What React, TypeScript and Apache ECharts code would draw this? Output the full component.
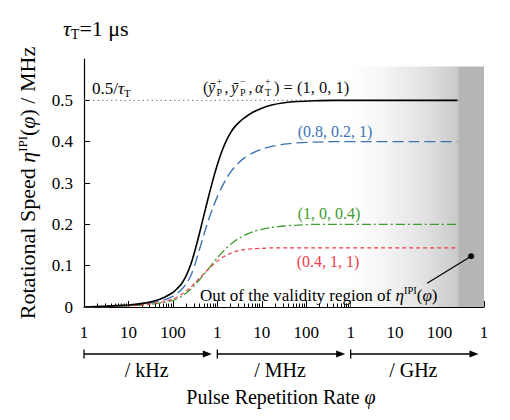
import React, { useEffect, useRef } from "react";
import * as echarts from "echarts";

const FONT = '"Liberation Serif", "Times New Roman", serif';

// log10 of pulse repetition rate (Hz): 3 = 1 kHz ... 12 = 1 THz
const logPhi = [3, 3.5, 4, 4.2, 4.4, 4.6, 4.8, 5.0, 5.1, 5.2, 5.3, 5.4, 5.5, 5.6, 5.7, 5.8, 5.9, 6.0, 6.1, 6.2, 6.3, 6.4, 6.5, 6.6, 6.8, 7.0, 7.2, 7.5, 7.8, 8.2, 8.6, 9.5, 10.5, 11.4];
const etaBlack = [0, 0.002, 0.005, 0.007, 0.01, 0.015, 0.023, 0.035, 0.045, 0.057, 0.076, 0.102, 0.138, 0.179, 0.223, 0.266, 0.307, 0.344, 0.376, 0.402, 0.422, 0.437, 0.448, 0.457, 0.471, 0.481, 0.488, 0.494, 0.497, 0.499, 0.5, 0.5, 0.5, 0.5];
const etaBlue = [0, 0.001, 0.004, 0.006, 0.008, 0.012, 0.017, 0.026, 0.033, 0.043, 0.056, 0.075, 0.104, 0.14, 0.176, 0.21, 0.24, 0.267, 0.29, 0.31, 0.327, 0.34, 0.351, 0.36, 0.373, 0.382, 0.388, 0.394, 0.397, 0.399, 0.4, 0.4, 0.4, 0.4];
const etaGreen = [0, 0.001, 0.003, 0.004, 0.006, 0.008, 0.011, 0.016, 0.02, 0.026, 0.034, 0.043, 0.054, 0.066, 0.079, 0.092, 0.106, 0.119, 0.131, 0.142, 0.152, 0.16, 0.167, 0.173, 0.182, 0.188, 0.192, 0.196, 0.198, 0.2, 0.2, 0.2, 0.2, 0.2];
const etaRed = [0, 0.001, 0.003, 0.004, 0.006, 0.009, 0.013, 0.019, 0.024, 0.031, 0.039, 0.048, 0.059, 0.07, 0.081, 0.092, 0.102, 0.111, 0.119, 0.125, 0.13, 0.134, 0.137, 0.139, 0.141, 0.142, 0.143, 0.143, 0.143, 0.143, 0.143, 0.143, 0.143, 0.143];

const limitLevel = 0.5;
const limitX = [3, 11.45];
const xMin = 3;
const xMax = 12;
const decadeCycleLabels = ["1", "10", "100"];
const unitLabels = ["/ kHz", "/ MHz", "/ GHz"];
const yTicks = [0, 0.1, 0.2, 0.3, 0.4, 0.5];
const validityStart = 9;
const validityTop = 0.582;
const outPoint = [11.71, 0.123];

const minorTicks: number[] = [];
for (let n = 3; n < 12; n++) {
  for (let k = 2; k <= 9; k++) minorTicks.push(n + Math.log10(k));
}

const toPairs = (ys: number[]) => logPhi.map((x, i) => [x, ys[i]]);

const txt = (extra: any) => ({ fontFamily: FONT, ...extra });
const Z = 100;

export default function App() {
  const ref = useRef<HTMLDivElement>(null);
  useEffect(() => {
    const el = ref.current!;
    const chart = echarts.init(el, null, { renderer: "svg" });
    const curve = (data: number[], color: string, width: number, type: any, z: number) => ({
      type: "line",
      data: toPairs(data),
      symbol: "none",
      smooth: 0.25,
      z,
      lineStyle: { color, width, type },
    });
    const option: any = {
      animation: false,
      grid: { left: 84, right: 26, top: 59, bottom: 113 },
      xAxis: [
        {
          type: "value",
          position: "bottom",
          min: xMin,
          max: xMax,
          interval: 1,
          axisLine: { show: true, lineStyle: { color: "#000", width: 1.2 } },
          axisTick: { show: true, inside: true, length: 6, lineStyle: { color: "#000", width: 1 } },
          axisLabel: {
            show: true,
            margin: 17,
            showMinLabel: true,
            showMaxLabel: true,
            fontFamily: FONT,
            fontSize: 17,
            color: "#000",
            formatter: (v: number) => decadeCycleLabels[Math.round(v - xMin) % 3],
          },
          splitLine: { show: false },
        },
        {
          type: "value",
          position: "bottom",
          min: xMin,
          max: xMax,
          axisLine: { show: false },
          axisTick: { show: true, inside: true, length: 3.5, customValues: minorTicks, lineStyle: { color: "#000", width: 1 } },
          axisLabel: { show: false },
          splitLine: { show: false },
        },
      ],
      yAxis: {
        type: "value",
        min: 0,
        max: 0.6,
        interval: 0.1,
        axisLine: { show: true, lineStyle: { color: "#000", width: 1.2 } },
        axisTick: { show: true, inside: true, length: 6, customValues: yTicks, lineStyle: { color: "#000" } },
        axisLabel: {
          show: true,
          customValues: yTicks,
          margin: 11,
          fontFamily: FONT,
          fontSize: 17,
          color: "#000",
          formatter: (v: number) => (v === 0 ? "0" : v.toFixed(1)),
        },
        splitLine: { show: false },
        name: "Rotational Speed {i|η}{s|IPI}({i|φ}) / MHz",
        nameLocation: "middle",
        nameGap: 46,
        nameRotate: 90,
        nameTextStyle: {
          fontFamily: FONT,
          fontSize: 22,
          color: "#000",
          rich: {
            i: { fontFamily: FONT, fontSize: 22, fontStyle: "italic", color: "#000" },
            s: { fontFamily: FONT, fontSize: 13, color: "#000", verticalAlign: "top" },
          },
        },
      },
      series: [
        {
          type: "line",
          xAxisIndex: 0,
          data: [[limitX[0], limitLevel], [limitX[1], limitLevel]],
          symbol: "none",
          z: 3,
          lineStyle: { color: "#777", width: 1, type: [1.5, 3] },
          markArea: {
            silent: true,
            z: 1,
            itemStyle: {
              color: new echarts.graphic.LinearGradient(0, 0, 1, 0, [
                { offset: 0, color: "#ffffff" },
                { offset: 0.25, color: "#f5f5f5" },
                { offset: 0.55, color: "#e2e2e2" },
                { offset: 0.8, color: "#cacaca" },
                { offset: 0.815, color: "#b5b5b5" },
                { offset: 1, color: "#b5b5b5" },
              ]),
            },
            data: [[{ coord: [validityStart, 0] }, { coord: [xMax, validityTop] }]],
          },
        },
        curve(etaBlack, "#000", 1.6, "solid", 6),
        curve(etaBlue, "#3d72b4", 1.4, [11, 5], 5),
        curve(etaGreen, "#3f9c2f", 1.3, [9, 3, 2, 3], 5),
        curve(etaRed, "#ec3e4a", 1.2, [4, 3], 5),
      ],
    };
    chart.setOption(option);

    const px = (v: number) => chart.convertToPixel({ xAxisIndex: 0 }, v) as number;
    const py = (v: number) => chart.convertToPixel({ yAxisIndex: 0 }, v) as number;

    const arrowY = 354;
    const graphics: any[] = [];
    for (let i = 0; i < 3; i++) {
      const x0 = px(xMin + 3 * i);
      const x1 = px(xMin + 3 * i + 3);
      const tip = x1 - 5.5;
      graphics.push({ type: "line", z: Z, shape: { x1: x0, y1: arrowY - 4.5, x2: x0, y2: arrowY + 4.5 }, style: { stroke: "#000", lineWidth: 1.3 } });
      graphics.push({ type: "line", z: Z, shape: { x1: x0, y1: arrowY, x2: tip - 6, y2: arrowY }, style: { stroke: "#000", lineWidth: 1.3 } });
      graphics.push({ type: "polygon", z: Z, shape: { points: [[tip, arrowY], [tip - 9, arrowY - 3.5], [tip - 9, arrowY + 3.5]] }, style: { fill: "#000" } });
      graphics.push({
        type: "text",
        z: Z,
        x: (x0 + x1) / 2 - 4,
        y: 370,
        style: txt({ text: unitLabels[i], fontSize: 20, fill: "#000", align: "center", verticalAlign: "middle", textAlign: "center", textVerticalAlign: "middle" }),
      });
    }
    const midX = (px(xMin) + px(xMax)) / 2;
    graphics.push({
      type: "text",
      z: Z,
      x: midX - 3,
      y: 397,
      style: txt({
        text: "Pulse Repetition Rate {i|φ}",
        fontSize: 20,
        fill: "#000",
        align: "center",
        verticalAlign: "middle",
        textAlign: "center",
        textVerticalAlign: "middle",
        rich: { i: { fontFamily: FONT, fontSize: 20, fontStyle: "italic", fill: "#000", color: "#000" } },
      }),
    });
    // title
    graphics.push({
      type: "text",
      z: Z,
      x: 63,
      y: 28,
      style: txt({
        text: "{i|τ}{b|T}{n|=1 μs}",
        fill: "#000",
        verticalAlign: "middle",
        textVerticalAlign: "middle",
        rich: {
          i: { fontFamily: FONT, fontSize: 22, fontStyle: "italic", color: "#000", lineHeight: 26 },
          b: { fontFamily: FONT, fontSize: 14, color: "#000", verticalAlign: "bottom" },
          n: { fontFamily: FONT, fontSize: 22, color: "#000", lineHeight: 26 },
        },
      }),
    });
    // 0.5/tau label
    graphics.push({
      type: "text",
      z: Z,
      x: 92,
      y: 88,
      style: txt({
        text: "{n|0.5/}{i|τ}{b|T}",
        fill: "#000",
        verticalAlign: "middle",
        textVerticalAlign: "middle",
        rich: {
          n: { fontFamily: FONT, fontSize: 17, color: "#000", lineHeight: 21 },
          i: { fontFamily: FONT, fontSize: 17, fontStyle: "italic", color: "#000", lineHeight: 21 },
          b: { fontFamily: FONT, fontSize: 11, color: "#000", verticalAlign: "bottom" },
        },
      }),
    });
    // parameter tuple label (stacked super/subscripts)
    const t = (text: string, x: number, y: number, size: number, italic = false) => ({
      type: "text",
      z: Z,
      x,
      y,
      style: txt({ text, fontSize: size, fontStyle: italic ? "italic" : "normal", fill: "#111", verticalAlign: "middle", textVerticalAlign: "middle" }),
    });
    graphics.push({
      type: "group",
      z: Z,
      x: 203,
      y: 87,
      children: [
        t("(", 0, 0, 16),
        t("ȳ", 5, 0, 16, true),
        t("+", 13.5, -6, 10),
        t("P", 13.5, 5, 10),
        t(",", 21.5, 0, 16),
        t("ȳ", 28, 0, 16, true),
        t("−", 37, -6, 10),
        t("P", 37, 5, 10),
        t(",", 45.5, 0, 16),
        t("α", 52, 0, 16, true),
        t("+", 62, -6, 10),
        t("T", 62, 5, 10),
        t(") = (1, 0, 1)", 71, 0, 16.5),
      ],
    });
    const colored = (text: string, x: number, y: number, color: string) => ({
      type: "text",
      z: Z,
      x,
      y,
      style: txt({ text, fontSize: 16, fill: color, align: "center", verticalAlign: "middle", textAlign: "center", textVerticalAlign: "middle" }),
    });
    graphics.push(colored("(0.8, 0.2, 1)", 335, 131, "#3d72b4"));
    graphics.push(colored("(1, 0, 0.4)", 329, 213, "#3f9c2f"));
    graphics.push(colored("(0.4, 1, 1)", 328, 261, "#ec3e4a"));
    graphics.push({
      type: "text",
      z: Z,
      x: 200,
      y: 295,
      style: txt({
        text: "{n|Out of the validity region of }{i|η}{s|IPI}{n|(}{i|φ}{n|)}",
        fill: "#000",
        verticalAlign: "middle",
        textVerticalAlign: "middle",
        rich: {
          n: { fontFamily: FONT, fontSize: 17, color: "#000", lineHeight: 21 },
          i: { fontFamily: FONT, fontSize: 17, fontStyle: "italic", color: "#000", lineHeight: 21 },
          s: { fontFamily: FONT, fontSize: 10.5, color: "#000", verticalAlign: "top" },
        },
      }),
    });
    const dx = px(outPoint[0]);
    const dy = py(outPoint[1]);
    graphics.push({ type: "line", z: Z, shape: { x1: dx - 44, y1: dy + 27, x2: dx, y2: dy }, style: { stroke: "#000", lineWidth: 1.2 } });
    graphics.push({ type: "circle", z: Z, shape: { cx: dx, cy: dy, r: 3 }, style: { fill: "#000" } });

    chart.setOption({ graphic: graphics });
    return () => chart.dispose();
  }, []);
  return <div ref={ref} style={{ position: "fixed", left: 0, top: 0, width: 510, height: 420, background: "#fff" }} />;
}
